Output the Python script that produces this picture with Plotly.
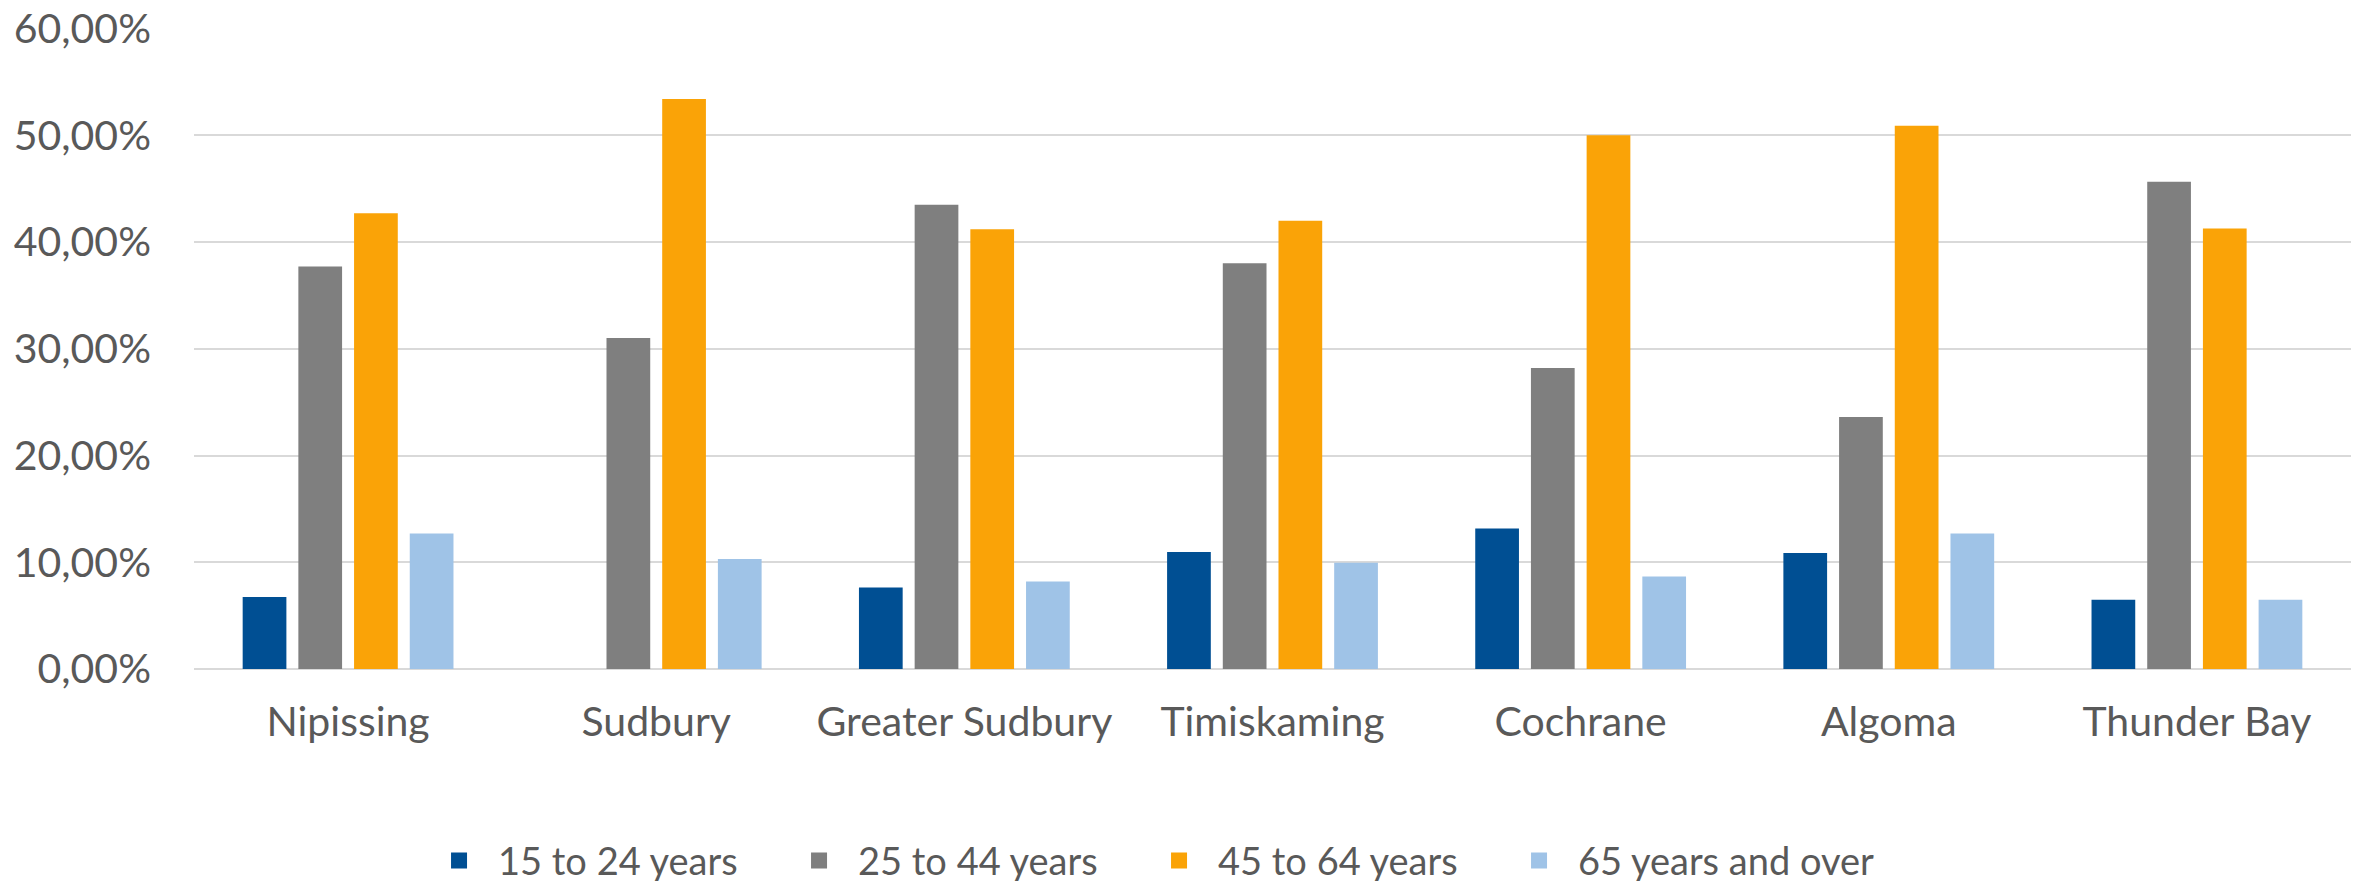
import plotly.graph_objects as go

regions = ['Nipissing', 'Sudbury', 'Greater Sudbury', 'Timiskaming', 'Cochrane', 'Algoma', 'Thunder Bay']
age_15_24 = [0.0675, 0.0, 0.0763, 0.1095, 0.1316, 0.1087, 0.0648]
age_25_44 = [0.377, 0.310, 0.435, 0.380, 0.282, 0.236, 0.4565]
age_45_64 = [0.427, 0.534, 0.412, 0.420, 0.500, 0.509, 0.4127]
age_65_up = [0.127, 0.103, 0.082, 0.0995, 0.0866, 0.127, 0.0648]

series = [
    ('15 to 24 years', age_15_24, '#004f93'),
    ('25 to 44 years', age_25_44, '#7f7f7f'),
    ('45 to 64 years', age_45_64, '#faa307'),
    ('65 years and over', age_65_up, '#9fc3e7'),
]

font_family = 'Lato, Noto Sans, sans-serif'
text_color = '#595959'

fig = go.Figure()
for name, values, color in series:
    fig.add_trace(go.Bar(
        x=regions, y=values, name=name,
        marker_color=color, marker_line_width=0,
        showlegend=False
    ))
    # legend swatch as a bigger square (en space widens the gap before the text)
    fig.add_trace(go.Scatter(
        x=[None], y=[None], mode='markers', name='\u2002' + name,
        marker=dict(symbol='square', size=20, color=color)
    ))

fig.update_layout(
    width=2363, height=881, autosize=False,
    margin=dict(l=186, r=20, t=20, b=220, autoexpand=False),
    plot_bgcolor='white', paper_bgcolor='white',
    separators=',.',
    barmode='group', bargap=0.277, bargroupgap=0.215,
    font=dict(family=font_family, color=text_color, size=32),
    legend=dict(
        orientation='h', x=0.1136, xanchor='left',
        y=-0.2993, yanchor='middle',
        font=dict(size=38, color=text_color),
        itemwidth=30,
        entrywidth=315, entrywidthmode='pixels'
    ),
)
fig.update_yaxes(
    range=[0, 0.6005], dtick=0.1, tickformat='.2%',
    showgrid=True, gridcolor='#d9d9d9', gridwidth=1.5,
    zeroline=True, zerolinecolor='#d9d9d9', zerolinewidth=1.5,
    showline=False, ticks='', ticklabelstandoff=42,
    ticklabeloverflow='allow',
    tickfont=dict(size=41, color=text_color)
)
fig.update_xaxes(
    showline=False, ticks='', ticklabelstandoff=25, tickangle=0,
    tickfont=dict(size=41, color=text_color)
)

fig.write_html('out.html')
